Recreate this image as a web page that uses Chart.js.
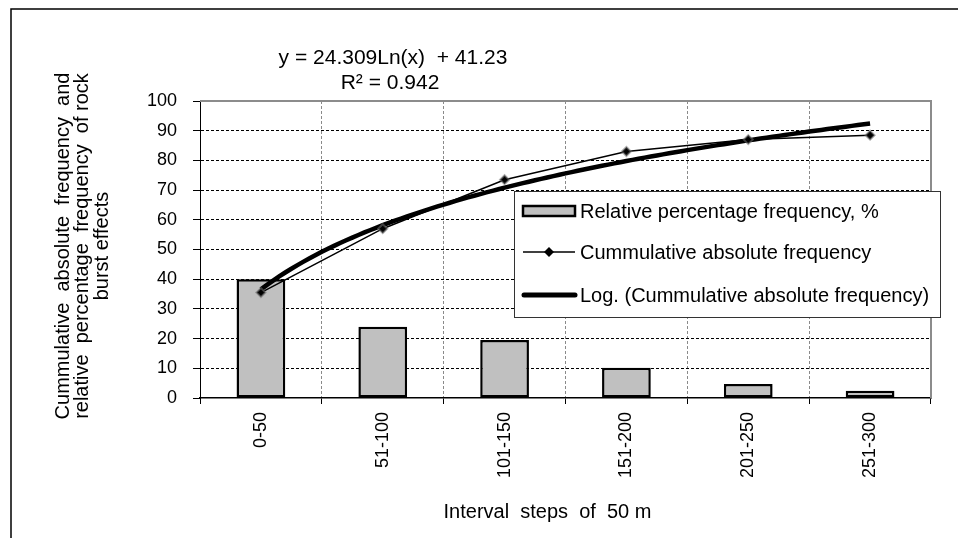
<!DOCTYPE html>
<html>
<head>
<meta charset="utf-8">
<script src="https://cdn.jsdelivr.net/npm/chart.js@4.4.1/dist/chart.umd.min.js"></script>
<style>
  html, body { margin: 0; padding: 0; background: #ffffff; }
  canvas { display: block; }
</style>
</head>
<body>
<canvas id="chart" width="958" height="538"></canvas>
<script>
// Distance intervals (m) and the two measured series
const categories = ['0-50', '51-100', '101-150', '151-200', '201-250', '251-300'];
const relativeFreq = [40, 24, 19.5, 10.2, 4.7, 2.4];
const cumulativeFreq = [35.5, 57, 73.5, 83, 87, 88.5];

const seriesLabels = [
  'Relative percentage frequency, %',
  'Cummulative absolute frequency',
  'Log. (Cummulative absolute frequency)'
];
const equationLines = ['y = 24.309Ln(x)  + 41.23', 'R\u00B2 = 0.942'];
const yTitleLines = [
  'Cummulative  absolute  frequency  and',
  'relative  percentage  frequency  of rock',
  'burst effects'
];
const xTitle = 'Interval  steps  of  50 m';

const FONT = "'Liberation Sans', Arial, sans-serif";

// Least-squares logarithmic trend of the cumulative series: y = a*ln(x) + b
function logFit(values) {
  const n = values.length;
  const lx = values.map((_, i) => Math.log(i + 1));
  const mx = lx.reduce((s, v) => s + v, 0) / n;
  const my = values.reduce((s, v) => s + v, 0) / n;
  let sxy = 0, sxx = 0;
  for (let i = 0; i < n; i++) {
    sxy += (lx[i] - mx) * (values[i] - my);
    sxx += (lx[i] - mx) * (lx[i] - mx);
  }
  const a = sxy / sxx;
  return { a, b: my - a * mx };
}
const fit = logFit(cumulativeFreq);
const trendPoints = [];
for (let k = 0; k <= 100; k++) {
  const x = 1 + (categories.length - 1) * k / 100;
  trendPoints.push({ x, y: fit.a * Math.log(x) + fit.b });
}

// Plot frame (top/right), legend box, titles and equation text
const decorations = {
  id: 'decorations',
  beforeDatasetsDraw(chart) {
    const { ctx, chartArea: a } = chart;
    ctx.save();
    ctx.strokeStyle = '#8c8c8c';
    ctx.lineWidth = 2;
    ctx.beginPath();
    ctx.moveTo(a.left, a.top);
    ctx.lineTo(a.right, a.top);
    ctx.lineTo(a.right, a.bottom);
    ctx.stroke();
    ctx.restore();
  },
  afterDraw(chart) {
    const { ctx, chartArea: a } = chart;
    const ds = chart.data.datasets;
    ctx.save();

    // outer frame
    ctx.strokeStyle = '#000';
    ctx.lineWidth = 1.5;
    ctx.beginPath();
    ctx.moveTo(11, 540);
    ctx.lineTo(11, 9);
    ctx.lineTo(960, 9);
    ctx.stroke();

    // legend
    const L = { x: 514.5, y: 191.5, w: 426, h: 126 };
    ctx.fillStyle = '#fff';
    ctx.fillRect(L.x, L.y, L.w, L.h);
    ctx.strokeStyle = '#333';
    ctx.lineWidth = 1;
    ctx.strokeRect(L.x, L.y, L.w, L.h);
    const rows = [211, 252, 295];
    const sx0 = 523, sx1 = 575, tx = 580;
    const barDs = ds.find((d) => d.type === 'bar');
    // bar swatch
    ctx.fillStyle = barDs.backgroundColor;
    ctx.fillRect(sx0, rows[0] - 5, sx1 - sx0, 10);
    ctx.strokeStyle = '#000';
    ctx.lineWidth = 2.5;
    ctx.strokeRect(sx0, rows[0] - 5, sx1 - sx0, 10);
    // line with diamond
    ctx.lineWidth = 1.5;
    ctx.beginPath();
    ctx.moveTo(sx0, rows[1]);
    ctx.lineTo(sx1, rows[1]);
    ctx.stroke();
    const mx = (sx0 + sx1) / 2;
    ctx.fillStyle = '#000';
    ctx.beginPath();
    ctx.moveTo(mx, rows[1] - 5);
    ctx.lineTo(mx + 5, rows[1]);
    ctx.lineTo(mx, rows[1] + 5);
    ctx.lineTo(mx - 5, rows[1]);
    ctx.closePath();
    ctx.fill();
    // thick trend line
    ctx.lineWidth = 5;
    ctx.lineCap = 'round';
    ctx.beginPath();
    ctx.moveTo(sx0 + 1, rows[2]);
    ctx.lineTo(sx1, rows[2]);
    ctx.stroke();
    ctx.lineCap = 'butt';
    ctx.fillStyle = '#000';
    ctx.font = '20px ' + FONT;
    ctx.textBaseline = 'middle';
    ctx.textAlign = 'left';
    seriesLabels.forEach((t, i) => ctx.fillText(t, tx, rows[i] + 1));

    // trend equation
    ctx.font = '21px ' + FONT;
    ctx.textAlign = 'center';
    ctx.fillText(equationLines[0], 393, 58);
    ctx.fillText(equationLines[1], 390, 83);

    // x-axis title
    ctx.font = '20px ' + FONT;
    ctx.fillText(xTitle, (a.left + a.right) / 2 - 18, 512);

    // y-axis title (rotated)
    ctx.font = '20px ' + FONT;
    const cy = 246;
    yTitleLines.forEach((t, i) => {
      ctx.save();
      ctx.translate(63 + i * 19.5, cy);
      ctx.rotate(-Math.PI / 2);
      ctx.fillText(t, 0, 0);
      ctx.restore();
    });
    ctx.restore();
  }
};

new Chart(document.getElementById('chart'), {
  data: {
    labels: categories,
    datasets: [
      {
        type: 'line',
        label: seriesLabels[1],
        data: cumulativeFreq,
        xAxisID: 'x',
        yAxisID: 'y',
        borderColor: '#000',
        borderWidth: 1.5,
        tension: 0,
        pointStyle: 'rectRot',
        pointRadius: 4.5,
        pointBackgroundColor: '#000',
        pointBorderColor: 'rgba(110,110,110,0.55)',
        pointBorderWidth: 2,
        order: 0
      },
      {
        type: 'line',
        label: seriesLabels[2],
        data: trendPoints,
        xAxisID: 'xt',
        yAxisID: 'y',
        borderColor: '#000',
        borderWidth: 4.5,
        pointRadius: 0,
        tension: 0,
        order: 1
      },
      {
        type: 'bar',
        label: seriesLabels[0],
        data: relativeFreq,
        xAxisID: 'x',
        yAxisID: 'y',
        backgroundColor: '#c0c0c0',
        borderColor: '#000',
        borderWidth: 2.5,
        borderSkipped: false,
        grouped: false,
        barPercentage: 0.4,
        categoryPercentage: 1,
        order: 2
      }
    ]
  },
  options: {
    responsive: false,
    animation: false,
    devicePixelRatio: 1,
    layout: { padding: { left: 0, right: 27, top: 101, bottom: 0 } },
    plugins: {
      legend: { display: false },
      tooltip: { enabled: false }
    },
    scales: {
      x: {
        type: 'category',
        offset: true,
        afterFit(s) { s.height = 140; },
        grid: {
          offset: true,
          color: (c) => (c.index === 0 ? 'rgba(0,0,0,0)' : '#8a8a8a'),
          lineWidth: 1,
          tickLength: 6,
          tickColor: '#000',
          tickWidth: 1
        },
        border: { display: true, color: '#000', width: 1.5, dash: [3, 2] },
        ticks: {
          color: '#000',
          font: { family: FONT, size: 18 },
          minRotation: 90,
          maxRotation: 90,
          padding: 8,
          autoSkip: false
        }
      },
      xt: {
        type: 'linear',
        display: false,
        min: 0.5,
        max: categories.length + 0.5
      },
      y: {
        type: 'linear',
        position: 'left',
        min: 0,
        max: 100,
        afterFit(s) { s.width = 200; },
        ticks: {
          stepSize: 10,
          color: '#000',
          font: { family: FONT, size: 18 },
          padding: 16
        },
        grid: {
          color: (c) => (c.tick && (c.tick.value === 0 || c.tick.value === 100) ? 'rgba(0,0,0,0)' : '#000'),
          lineWidth: 1,
          tickLength: 7,
          tickColor: '#000',
          tickWidth: 1
        },
        border: { display: true, color: '#000', width: 1, dash: [3, 2] }
      }
    }
  },
  plugins: [decorations]
});
</script>
</body>
</html>
